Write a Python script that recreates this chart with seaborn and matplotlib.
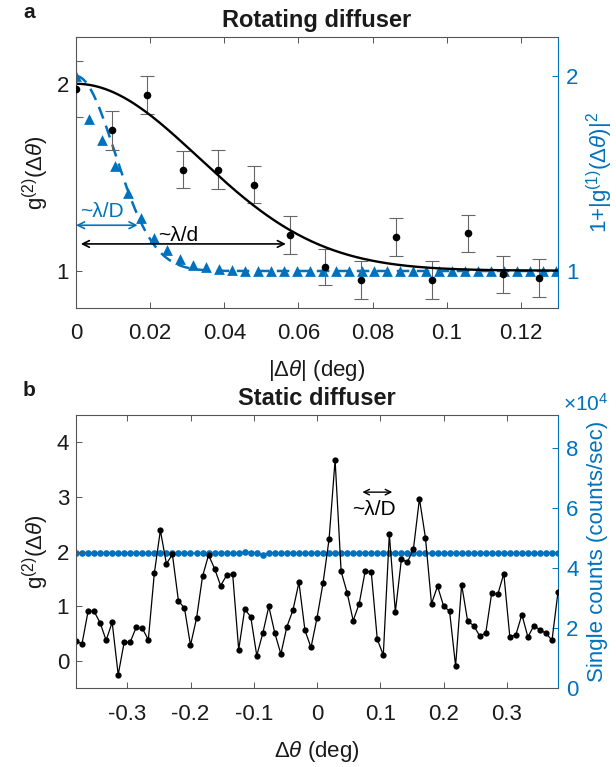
import numpy as np
import matplotlib
matplotlib.use("Agg")
import matplotlib.pyplot as plt
import seaborn as sns

# ---------------------------------------------------------------
# data
# ---------------------------------------------------------------
# panel a : rotating diffuser, measured g2 with error bars
THETA_ROT = [0.0, 0.0096, 0.0192, 0.0288, 0.0384, 0.0480, 0.0576,
             0.0672, 0.0768, 0.0864, 0.0960, 0.1056, 0.1152, 0.1248]
G2_ROT = [1.97, 1.75, 1.94, 1.54, 1.54, 1.46, 1.19,
          1.02, 0.95, 1.18, 0.95, 1.20, 0.98, 0.96]
G2_ROT_ERR = [0.15, 0.105, 0.10, 0.10, 0.105, 0.10, 0.10,
              0.095, 0.10, 0.10, 0.10, 0.10, 0.10, 0.10]

# gaussian fit of the measured g2 (amplitude, 1/e^0.5 width in deg)
FIT_G2_AMP = 1.0
FIT_G2_WIDTH = 0.033

# panel a : simulated 1+|g1|^2 (blue triangles), step 0.0035 deg
SIM_STEP = 0.0035
G1_SIM = [2.00, 1.78, 1.67, 1.54, 1.40, 1.27, 1.17, 1.107, 1.06, 1.03,
          1.018, 1.01, 1.005, 1.0, 1.0, 1.0, 1.0, 1.0, 1.0, 1.0,
          1.0, 1.0, 1.0, 1.0, 1.0, 1.0, 1.0, 1.0, 1.0, 1.0,
          1.0, 1.0, 1.0, 1.0, 1.0, 1.0, 1.0, 1.0]
FIT_SIM_WIDTH = 0.0105

# panel b : static diffuser, 81 angles between -0.381 and 0.381 deg
THETA_STATIC_LIM = (-0.381, 0.381)
G2_STATIC = [0.36, 0.32, 0.91, 0.91, 0.70, 0.38, 0.71, -0.25, 0.35, 0.35,
             0.62, 0.60, 0.39, 1.61, 2.39, 1.78, 1.95, 1.10, 0.97, 0.29,
             0.78, 1.55, 1.94, 1.69, 1.38, 1.57, 1.59, 0.21, 0.95, 0.81,
             0.10, 0.51, 1.00, 0.51, 0.13, 0.63, 0.93, 1.44, 0.56, 0.25,
             0.79, 1.43, 2.23, 3.68, 1.64, 1.25, 0.74, 1.05, 1.65, 1.63,
             0.40, 0.11, 2.32, 0.90, 1.86, 1.81, 2.05, 2.97, 2.25, 1.05,
             1.37, 1.01, 0.91, -0.09, 1.40, 0.73, 0.65, 0.46, 0.51, 1.25,
             1.22, 1.60, 0.44, 0.48, 0.85, 0.44, 0.65, 0.57, 0.51, 0.38,
             1.27]
# single counts in units of 1e4 counts/sec
COUNTS_STATIC = [4.50, 4.50, 4.51, 4.50, 4.50, 4.51, 4.50, 4.50, 4.50, 4.51,
                 4.50, 4.50, 4.50, 4.50, 4.51, 4.50, 4.52, 4.50, 4.50, 4.50,
                 4.50, 4.50, 4.51, 4.50, 4.50, 4.50, 4.50, 4.50, 4.53, 4.52,
                 4.50, 4.45, 4.51, 4.51, 4.50, 4.50, 4.50, 4.50, 4.50, 4.50,
                 4.50, 4.50, 4.51, 4.50, 4.52, 4.50, 4.50, 4.50, 4.51, 4.50,
                 4.50, 4.50, 4.50, 4.51, 4.50, 4.50, 4.52, 4.50, 4.50, 4.50,
                 4.50, 4.50, 4.51, 4.50, 4.50, 4.50, 4.50, 4.50, 4.51, 4.50,
                 4.50, 4.50, 4.50, 4.50, 4.51, 4.50, 4.50, 4.50, 4.50, 4.50,
                 4.50]

# ---------------------------------------------------------------
# style
# ---------------------------------------------------------------
sns.set_theme(style="ticks")
plt.rcParams["font.family"] = ["Liberation Sans", "DejaVu Sans"]
plt.rcParams["mathtext.fontset"] = "custom"
plt.rcParams["mathtext.rm"] = "Liberation Sans"
plt.rcParams["mathtext.it"] = "Liberation Sans:italic"
plt.rcParams["mathtext.bf"] = "Liberation Sans:bold"
plt.rcParams["axes.unicode_minus"] = False

BLUE = "#0072BD"
AXC = "#555555"
TXT = "#1a1a1a"
FS = 16


def style_axes(ax, ax2):
    for s in ["left", "top", "bottom"]:
        ax.spines[s].set_color(AXC)
        ax.spines[s].set_linewidth(0.8)
        ax2.spines[s].set_visible(False)
    ax.spines["right"].set_visible(False)
    ax2.spines["right"].set_color(BLUE)
    ax2.spines["right"].set_linewidth(0.8)
    ax.tick_params(axis="x", direction="in", top=True, bottom=True,
                   length=4, width=0.7, color=AXC, labelsize=FS,
                   labelcolor=TXT, pad=11)
    ax.tick_params(axis="y", direction="in", left=True, right=False,
                   length=4, width=0.7, color=AXC, labelsize=FS,
                   labelcolor=TXT, pad=5)
    ax2.tick_params(axis="y", direction="in", right=True, left=False,
                    length=4, width=0.7, color=BLUE, labelsize=FS,
                    labelcolor=BLUE, pad=6)
    ax2.tick_params(axis="x", top=False, bottom=False, labelbottom=False)
    # measured data on top of the right-axis data
    ax.set_zorder(ax2.get_zorder() + 1)
    ax.patch.set_visible(False)


fig = plt.figure(figsize=(6.16, 7.67), dpi=100)

# ---------------------------------------------------------------
# panel a
# ---------------------------------------------------------------
ax_a = fig.add_axes([0.1234, 0.5984, 0.7825, 0.3533])
ax_a2 = ax_a.twinx()

theta_sim = np.arange(len(G1_SIM)) * SIM_STEP
theta_fit = np.linspace(0, 0.13, 400)

sns.lineplot(x=theta_fit,
             y=1 + np.exp(-theta_fit**2 / (2 * FIT_SIM_WIDTH**2)),
             ax=ax_a2, color=BLUE, lw=1.8, linestyle=(0, (5, 3)))
sns.scatterplot(x=theta_sim, y=G1_SIM, ax=ax_a2, marker="^", s=60,
                color=BLUE, linewidth=0, zorder=3)

ax_a.errorbar(THETA_ROT, G2_ROT, yerr=G2_ROT_ERR, fmt="none",
              ecolor="#666666", elinewidth=0.8, capsize=5, capthick=0.8,
              zorder=2)
sns.lineplot(x=theta_fit,
             y=1 + FIT_G2_AMP * np.exp(-theta_fit**2 / (2 * FIT_G2_WIDTH**2)),
             ax=ax_a, color="black", lw=1.7)
sns.scatterplot(x=THETA_ROT, y=G2_ROT, ax=ax_a, color="black", s=30,
                linewidth=0, zorder=4)

# width annotations
ax_a.annotate("", xy=(0.0166, 1.243), xytext=(0.0, 1.243),
              arrowprops=dict(arrowstyle="<->", color=BLUE, lw=1.2,
                              shrinkA=0, shrinkB=0, mutation_scale=12))
ax_a.text(0.0071, 1.318, "~λ/D", color=BLUE, fontsize=15,
          ha="center", va="center")
ax_a.annotate("", xy=(0.0566, 1.143), xytext=(0.0013, 1.143),
              arrowprops=dict(arrowstyle="<->", color="black", lw=1.2,
                              shrinkA=0, shrinkB=0, mutation_scale=12))
ax_a.text(0.0222, 1.19, "~λ/d", color="black", fontsize=15,
          ha="left", va="center")

ax_a.set_xlim(0, 0.13)
ax_a.set_ylim(0.8, 2.25)
ax_a2.set_ylim(0.81, 2.2)
ax_a.set_xticks([0, 0.02, 0.04, 0.06, 0.08, 0.1, 0.12])
ax_a.set_xticklabels(["0", "0.02", "0.04", "0.06", "0.08", "0.1", "0.12"])
ax_a.set_yticks([1, 2])
ax_a2.set_yticks([1, 2])
style_axes(ax_a, ax_a2)

ax_a.set_xlabel(r"|$\Delta\theta$| (deg)", fontsize=FS, color=TXT, labelpad=10)
ax_a.set_ylabel(r"g$^{(2)}$($\Delta\theta$)", fontsize=FS, color=TXT,
                labelpad=4)
ax_a2.set_ylabel(r"1+|g$^{(1)}$($\Delta\theta$)|$^2$", fontsize=FS,
                 color=BLUE, labelpad=4)
ax_a.set_title("Rotating diffuser", fontsize=17, fontweight="bold",
               color=TXT, pad=7)

# ---------------------------------------------------------------
# panel b
# ---------------------------------------------------------------
ax_b = fig.add_axes([0.1234, 0.1024, 0.7825, 0.3565])
ax_b2 = ax_b.twinx()

theta_static = np.linspace(THETA_STATIC_LIM[0], THETA_STATIC_LIM[1],
                           len(G2_STATIC))

sns.lineplot(x=theta_static, y=np.array(COUNTS_STATIC) * 1e4, ax=ax_b2,
             color=BLUE, lw=1.2, marker="o", markersize=4.8,
             markeredgewidth=0, sort=False, errorbar=None)
sns.lineplot(x=theta_static, y=G2_STATIC, ax=ax_b, color="black", lw=0.9,
             marker="o", markersize=4.5, markeredgewidth=0, sort=False,
             errorbar=None)

ax_b.annotate("", xy=(0.119, 3.09), xytext=(0.0717, 3.09),
              arrowprops=dict(arrowstyle="<->", color="black", lw=1.0,
                              shrinkA=0, shrinkB=0, mutation_scale=10))
ax_b.text(0.0907, 2.77, "~λ/D", color="black", fontsize=15,
          ha="center", va="center")

ax_b.set_xlim(*THETA_STATIC_LIM)
ax_b.set_ylim(-0.5, 4.5)
ax_b2.set_ylim(0, 9.1e4)
ax_b.set_xticks([-0.3, -0.2, -0.1, 0, 0.1, 0.2, 0.3])
ax_b.set_xticklabels(["-0.3", "-0.2", "-0.1", "0", "0.1", "0.2", "0.3"])
ax_b.set_yticks([0, 1, 2, 3, 4])
ax_b2.set_yticks([0, 2e4, 4e4, 6e4, 8e4])
ax_b2.set_yticklabels(["0", "2", "4", "6", "8"])
style_axes(ax_b, ax_b2)

ax_b.set_xlabel(r"$\Delta\theta$ (deg)", fontsize=FS, color=TXT, labelpad=10)
ax_b.set_ylabel(r"g$^{(2)}$($\Delta\theta$)", fontsize=FS, color=TXT,
                labelpad=4)
ax_b2.set_ylabel("Single counts (counts/sec)", fontsize=FS, color=BLUE,
                 labelpad=6)
ax_b.set_title("Static diffuser", fontsize=17, fontweight="bold",
               color=TXT, pad=7)
ax_b2.text(1.01, 1.0, r"$\times$10$^4$", transform=ax_b2.transAxes,
           fontsize=15, color=BLUE, ha="left", va="bottom")

# panel letters
fig.text(23 / 616, 1 - 12 / 767, "a", fontsize=15, fontweight="bold",
         color=TXT, ha="left", va="center")
fig.text(23 / 616, 1 - 390 / 767, "b", fontsize=15, fontweight="bold",
         color=TXT, ha="left", va="center")

fig.savefig("out.png", dpi=100)
